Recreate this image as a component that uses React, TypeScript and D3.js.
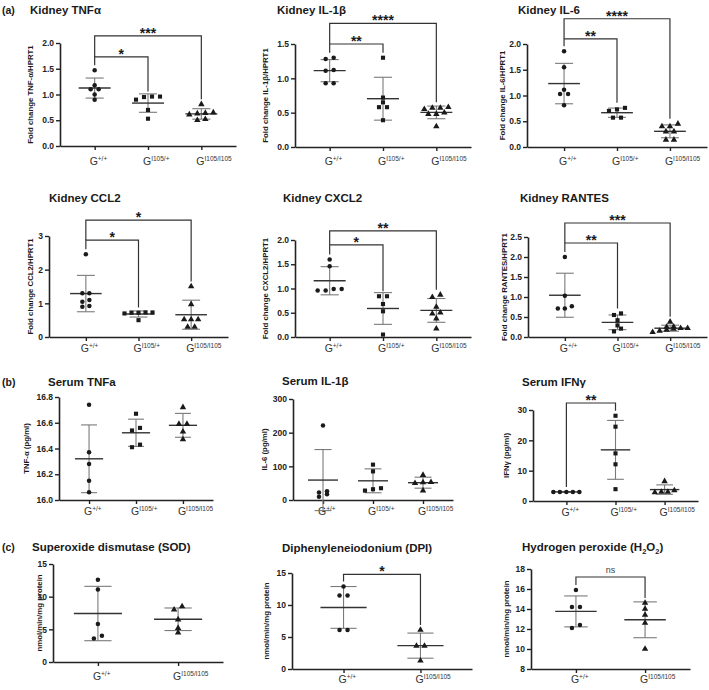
import * as d3 from "d3";
import { useRef, useEffect, ReactNode } from "react";

const FONT = "Arial, 'Liberation Sans', Helvetica, sans-serif";
const INK = "#1a1a1a";
const AXIS = "#222";
const MEAN_COLOR = "#333";
const SD_COLOR = "#7a7a7a";

// genotype groups (superscripts after the "G")
const groups3 = ["+/+", "I105/+", "I105/I105"];
const groups2 = ["+/+", "I105/I105"];

// (a) kidney mRNA, fold change over HPRT1
const kidneyTnf = [
  [1.47, 1.18, 1.1, 1.1, 1.0, 0.9],
  [0.95, 0.9, 0.96, 0.96, 0.7, 0.53],
  [0.81, 0.65, 0.63, 0.64, 0.61, 0.5, 0.52],
];
const kidneyIl1b = [
  [1.28, 1.3, 1.11, 1.12, 0.93, 0.93],
  [1.3, 0.72, 0.65, 0.58, 0.58, 0.39],
  [0.58, 0.57, 0.57, 0.55, 0.5, 0.48, 0.48, 0.3],
];
const kidneyIl6 = [
  [1.86, 1.55, 1.11, 1.03, 1.03, 0.81],
  [0.73, 0.76, 0.7, 0.57, 0.57],
  [0.45, 0.4, 0.4, 0.3, 0.3, 0.14, 0.14],
];
const kidneyCcl2 = [
  [2.46, 1.3, 1.3, 1.1, 1.05, 0.92, 0.9],
  [0.73, 0.72, 0.7, 0.72, 0.73, 0.5],
  [1.5, 0.97, 0.52, 0.52, 0.52, 0.3, 0.3],
];
const kidneyCxcl2 = [
  [1.6, 1.46, 0.96, 0.99, 0.96, 0.99],
  [0.84, 0.84, 0.68, 0.53, 0.05],
  [0.82, 0.87, 0.62, 0.48, 0.5, 0.38, 0.17],
];
const kidneyRantes = [
  [2.0, 1.03, 0.71, 0.77, 0.71],
  [0.55, 0.59, 0.42, 0.29, 0.21, 0.14],
  [0.38, 0.26, 0.22, 0.22, 0.25, 0.2, 0.18, 0.15, 0.12],
];

// (b) serum cytokines, pg/ml
const serumTnf = [
  [16.74, 16.37, 16.28, 16.15, 16.06],
  [16.67, 16.54, 16.56, 16.41, 16.43],
  [16.72, 16.59, 16.59, 16.53, 16.47],
];
const serumIl = [
  [221, 26, 22, 17, 10],
  [105, 85, 35, 28, 32],
  [74, 52, 53, 50, 28],
];
const serumIfn = [
  [3, 3, 3, 3, 3],
  [28.1, 24.5, 15.7, 12.1, 3.9],
  [6.5, 3.5, 3, 3, 2.8],
];

// (c) ROS assays, nmol/min/mg protein
const sod = [
  [12.6, 11.1, 5.8, 3.6, 4.0],
  [8.5, 8.0, 6.5, 5.2, 4.5],
];
const dpi = [
  [12.9, 11.5, 11.5, 6.1, 6.1],
  [6.1, 3.6, 3.6, 1.3],
];
const h2o2 = [
  [15.9, 14.2, 14.2, 12.4, 12.1],
  [14.6, 14.0, 13.4, 12.6, 10.0],
];

// y tick values
const ticksTnf = [0, 0.5, 1, 1.5, 2];
const ticksIl1b = [0, 0.5, 1, 1.5];
const ticksIl6 = [0, 0.5, 1, 1.5, 2];
const ticksCcl2 = [0, 1, 2, 3];
const ticksCxcl2 = [0, 0.5, 1, 1.5, 2];
const ticksRantes = [0, 0.5, 1, 1.5, 2, 2.5];
const ticksSerumTnf = [16.0, 16.2, 16.4, 16.6, 16.8];
const ticksSerumIl = [0, 100, 200, 300];
const ticksSerumIfn = [0, 10, 20, 30];
const ticksRos = [0, 5, 10, 15];
const ticksH2o2 = [8, 10, 12, 14, 16, 18];

// significance brackets: groups a..b, drawn at y value `level`
type Bracket = { a: number; b: number; label: string; level: number };
const bracketsTnf: Bracket[] = [{ a: 0, b: 1, label: "*", level: 1.73 }, { a: 0, b: 2, label: "***", level: 2.14 }];
const bracketsIl1b: Bracket[] = [{ a: 0, b: 1, label: "**", level: 1.5 }, { a: 0, b: 2, label: "****", level: 1.8 }];
const bracketsIl6: Bracket[] = [{ a: 0, b: 1, label: "**", level: 2.1 }, { a: 0, b: 2, label: "****", level: 2.49 }];
const bracketsCcl2: Bracket[] = [{ a: 0, b: 1, label: "*", level: 2.88 }, { a: 0, b: 2, label: "*", level: 3.47 }];
const bracketsCxcl2: Bracket[] = [{ a: 0, b: 1, label: "*", level: 1.9 }, { a: 0, b: 2, label: "**", level: 2.19 }];
const bracketsRantes: Bracket[] = [{ a: 0, b: 1, label: "**", level: 2.35 }, { a: 0, b: 2, label: "***", level: 2.85 }];
const bracketsIfn: Bracket[] = [{ a: 0, b: 1, label: "**", level: 32.3 }];
const bracketsDpi: Bracket[] = [{ a: 0, b: 1, label: "*", level: 14.8 }];
const bracketsH2o2: Bracket[] = [{ a: 0, b: 1, label: "ns", level: 17.2 }];

type PanelSpec = {
  tag?: string;
  title: ReactNode;
  titleX: number;
  titleY: number;
  yLabel: string;
  yLabelX: number;
  groups: string[];
  values: number[][];
  ticks: number[];
  fmt: string;
  x0: number;
  x1: number;
  yTop: number;
  yBottom: number;
  padding: number;
  labelY: number;
  brackets: Bracket[];
  spread?: number;
};

const symbolFor = (g: string) =>
  g === "+/+" ? d3.symbol(d3.symbolCircle, 16) : g === "I105/+" ? d3.symbol(d3.symbolSquare, 17) : d3.symbol(d3.symbolTriangle, 18);

// Prism-like scatter: points whose pixel y are close share a row, rows are centred
function swarmOffsets(py: number[], spacing: number, tol = 4): number[] {
  const order = d3.range(py.length).sort((i, j) => py[j] - py[i]);
  const out = new Array(py.length).fill(0);
  let row: number[] = [];
  const flush = () => {
    row.forEach((idx, k) => (out[idx] = (k - (row.length - 1) / 2) * spacing));
    row = [];
  };
  for (const i of order) {
    if (row.length && Math.abs(py[i] - py[row[0]]) > tol) flush();
    row.push(i);
  }
  flush();
  return out;
}

function Panel({ spec }: { spec: PanelSpec }) {
  const gx = useRef<SVGGElement | null>(null);
  const gy = useRef<SVGGElement | null>(null);
  const x = d3.scalePoint<number>().domain(d3.range(spec.groups.length)).range([spec.x0, spec.x1]).padding(spec.padding);
  const y = d3.scaleLinear([spec.ticks[0], spec.ticks[spec.ticks.length - 1]], [spec.yBottom, spec.yTop]);
  const step = x.step();
  const spread = spec.spread ?? 8;

  useEffect(() => {
    if (gy.current) {
      d3.select(gy.current)
        .call(d3.axisLeft(y).tickValues(spec.ticks).tickFormat(d3.format(spec.fmt) as any).tickSize(4).tickSizeOuter(0).tickPadding(2))
        .call((g) => {
          g.attr("font-family", FONT).attr("font-size", 8.5).attr("font-weight", "bold");
          g.select(".domain").attr("stroke", AXIS).attr("stroke-width", 1.6);
          g.selectAll(".tick line").attr("stroke", AXIS).attr("stroke-width", 1.4);
          g.selectAll(".tick text").attr("fill", "#222");
        });
    }
    if (gx.current) {
      d3.select(gx.current)
        .call(d3.axisBottom(x).tickSize(4).tickSizeOuter(0).tickFormat(() => ""))
        .call((g) => {
          g.select(".domain").attr("stroke", AXIS).attr("stroke-width", 1.6);
          g.selectAll(".tick line").attr("stroke", AXIS).attr("stroke-width", 1.4);
        });
    }
  }, [gx, gy, x, y, spec]);

  const gap = 5;
  const groupTop = (g: number) => y(d3.max(spec.values[g]) as number) - gap;
  const legEnd = (br: Bracket, g: number) => {
    const yb = y(br.level);
    const below = spec.brackets
      .filter((o) => o !== br && o.a <= g && g <= o.b && y(o.level) > yb)
      .map((o) => y(o.level));
    return below.length ? (d3.min(below) as number) : groupTop(g);
  };

  return (
    <g>
      {spec.tag && (
        <text x={2} y={spec.titleY} fontSize={10.5} fontWeight="bold" fill={INK} fontFamily={FONT}>
          {spec.tag}
        </text>
      )}
      <text x={spec.titleX} y={spec.titleY} fontSize={11.5} fontWeight="bold" fill={INK} fontFamily={FONT}>
        {spec.title}
      </text>
      <text
        transform={`translate(${spec.yLabelX},${(spec.yTop + spec.yBottom) / 2}) rotate(-90)`}
        textAnchor="middle"
        fontSize={7.8}
        fontWeight="bold"
        fill={INK}
        fontFamily={FONT}
      >
        {spec.yLabel}
      </text>

      <g ref={gx} transform={`translate(0,${spec.yBottom})`} />
      <g ref={gy} transform={`translate(${spec.x0},0)`} />

      {spec.groups.map((g, gi) => {
        const cx = x(gi) as number;
        return (
          <text key={g} x={cx - 5} y={spec.labelY} fontSize={10.5} fill="#333" fontFamily={FONT}>
            G
            <tspan fontSize={6.5} dy={-4}>
              {g}
            </tspan>
          </text>
        );
      })}

      {spec.values.map((vals, gi) => {
        const cx = x(gi) as number;
        const m = d3.mean(vals) as number;
        const sd = d3.deviation(vals) ?? 0;
        const half = step * 0.3;
        const cap = step * 0.17;
        const py = vals.map((v) => y(v));
        const dx = swarmOffsets(py, spread);
        const sym = symbolFor(spec.groups[gi]);
        return (
          <g key={gi}>
            <g stroke={SD_COLOR} strokeWidth={1.1}>
              <line x1={cx} x2={cx} y1={y(m - sd)} y2={y(m + sd)} />
              <line x1={cx - cap} x2={cx + cap} y1={y(m + sd)} y2={y(m + sd)} />
              <line x1={cx - cap} x2={cx + cap} y1={y(m - sd)} y2={y(m - sd)} />
            </g>
            <line x1={cx - half} x2={cx + half} y1={y(m)} y2={y(m)} stroke={MEAN_COLOR} strokeWidth={1.4} />
            {vals.map((v, i) => (
              <path key={i} d={sym() as string} transform={`translate(${cx + dx[i]},${py[i]})`} fill={INK} />
            ))}
          </g>
        );
      })}

      {spec.brackets.map((br, bi) => {
        const xa = x(br.a) as number;
        const xb = x(br.b) as number;
        const yb = y(br.level);
        const ns = br.label === "ns";
        return (
          <g key={bi}>
            <path
              d={`M${xa},${legEnd(br, br.a)}V${yb}H${xb}V${legEnd(br, br.b)}`}
              fill="none"
              stroke={MEAN_COLOR}
              strokeWidth={1.2}
            />
            <text
              x={(xa + xb) / 2}
              y={ns ? yb - 4 : yb + 2}
              textAnchor="middle"
              fontSize={ns ? 9 : 14}
              fontWeight={ns ? "normal" : "bold"}
              fill={ns ? "#444" : INK}
              fontFamily={FONT}
            >
              {br.label}
            </text>
          </g>
        );
      })}
    </g>
  );
}

const panels: PanelSpec[] = [
  { tag: "(a)", title: "Kidney TNFα", titleX: 30, titleY: 14, yLabel: "Fold change TNF-α/HPRT1", yLabelX: 33, groups: groups3, values: kidneyTnf, ticks: ticksTnf, fmt: ".1f", x0: 60, x1: 236, yTop: 43, yBottom: 146, padding: 0.65, labelY: 165, brackets: bracketsTnf },
  { title: "Kidney IL-1β", titleX: 277, titleY: 14, yLabel: "Fold change IL-1β/HPRT1", yLabelX: 268, groups: groups3, values: kidneyIl1b, ticks: ticksIl1b, fmt: ".1f", x0: 295, x1: 471, yTop: 44, yBottom: 147, padding: 0.65, labelY: 165, brackets: bracketsIl1b },
  { title: "Kidney IL-6", titleX: 518, titleY: 14, yLabel: "Fold change IL-6/HPRT1", yLabelX: 505, groups: groups3, values: kidneyIl6, ticks: ticksIl6, fmt: ".1f", x0: 527, x1: 707, yTop: 44, yBottom: 147, padding: 0.7, labelY: 165, brackets: bracketsIl6 },
  { title: "Kidney CCL2", titleX: 49, titleY: 202, yLabel: "Fold change CCL2/HPRT1", yLabelX: 33, groups: groups3, values: kidneyCcl2, ticks: ticksCcl2, fmt: "d", x0: 49, x1: 228, yTop: 236, yBottom: 337, padding: 0.7, labelY: 352, brackets: bracketsCcl2, spread: 7 },
  { title: "Kidney CXCL2", titleX: 283, titleY: 202, yLabel: "Fold change CXCL2/HPRT1", yLabelX: 268, groups: groups3, values: kidneyCxcl2, ticks: ticksCxcl2, fmt: ".1f", x0: 295, x1: 471, yTop: 240, yBottom: 337, padding: 0.65, labelY: 352, brackets: bracketsCxcl2 },
  { title: "Kidney RANTES", titleX: 520, titleY: 202, yLabel: "Fold change RANTES/HPRT1", yLabelX: 507, groups: groups3, values: kidneyRantes, ticks: ticksRantes, fmt: ".1f", x0: 528, x1: 707, yTop: 237, yBottom: 337, padding: 0.7, labelY: 352, brackets: bracketsRantes, spread: 7 },
  { tag: "(b)", title: "Serum TNFa", titleX: 48, titleY: 386, yLabel: "TNF-α (pg/ml)", yLabelX: 29, groups: groups3, values: serumTnf, ticks: ticksSerumTnf, fmt: ".1f", x0: 59, x1: 213, yTop: 397, yBottom: 500, padding: 0.64, labelY: 515, brackets: [] },
  { title: "Serum IL-1β", titleX: 282, titleY: 385, yLabel: "IL-6 (pg/ml)", yLabelX: 267, groups: groups3, values: serumIl, ticks: ticksSerumIl, fmt: "d", x0: 293, x1: 453, yTop: 399, yBottom: 500, padding: 0.6, labelY: 515, brackets: [] },
  { title: "Serum IFNγ", titleX: 522, titleY: 386, yLabel: "IFNγ (pg/ml)", yLabelX: 509, groups: groups3, values: serumIfn, ticks: ticksSerumIfn, fmt: "d", x0: 533, x1: 698, yTop: 410, yBottom: 501, padding: 0.68, labelY: 516, brackets: bracketsIfn, spread: 6.5 },
  { tag: "(c)", title: "Superoxide dismutase (SOD)", titleX: 32, titleY: 551, yLabel: "nmol/min/mg protein", yLabelX: 42, groups: groups2, values: sod, ticks: ticksRos, fmt: "d", x0: 53, x1: 223, yTop: 564, yBottom: 662, padding: 0.56, labelY: 680, brackets: [] },
  { title: "Diphenyleneiodonium (DPI)", titleX: 282, titleY: 552, yLabel: "nmol/min/mg protein", yLabelX: 269, groups: groups2, values: dpi, ticks: ticksRos, fmt: "d", x0: 292, x1: 472, yTop: 573, yBottom: 669, padding: 0.67, labelY: 683, brackets: bracketsDpi },
  {
    title: (
      <>
        Hydrogen peroxide (H<tspan fontSize={7.5} dy={3}>2</tspan>
        <tspan dy={-3}>O</tspan>
        <tspan fontSize={7.5} dy={3}>2</tspan>
        <tspan dy={-3}>)</tspan>
      </>
    ),
    titleX: 522, titleY: 551, yLabel: "nmol/min/mg protein", yLabelX: 509, groups: groups2, values: h2o2, ticks: ticksH2o2, fmt: "d", x0: 531, x1: 690, yTop: 569, yBottom: 669, padding: 0.65, labelY: 683, brackets: bracketsH2o2,
  },
];

export default function App() {
  useEffect(() => {
    document.body.style.margin = "0";
  }, []);
  return (
    <svg width={709} height={690} style={{ display: "block", background: "#fff" }}>
      {panels.map((p, i) => (
        <Panel key={i} spec={p} />
      ))}
    </svg>
  );
}
